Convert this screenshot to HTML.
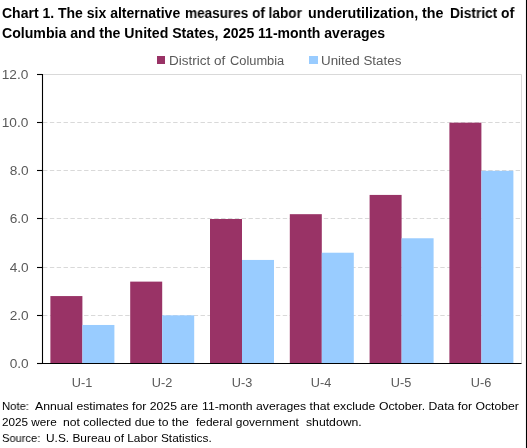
<!DOCTYPE html>
<html><head><meta charset="utf-8"><style>
html,body{margin:0;padding:0;background:#fff;}
body{width:527px;height:448px;position:relative;overflow:hidden;font-family:"Liberation Sans",sans-serif;}
.t{position:absolute;white-space:pre;line-height:1;transform-origin:0 0;will-change:transform;}
.r{position:absolute;white-space:pre;line-height:1;text-align:right;transform-origin:100% 0;will-change:transform;}
.c{position:absolute;white-space:pre;line-height:1;text-align:center;transform-origin:50% 0;will-change:transform;}
svg{position:absolute;left:0;top:0;}
</style></head><body>
<svg width="527" height="448" viewBox="0 0 527 448"><line x1="42.5" y1="74.5" x2="521.5" y2="74.5" stroke="#d9d9d9" stroke-width="1"/><line x1="521.5" y1="74.5" x2="521.5" y2="363.5" stroke="#d9d9d9" stroke-width="1"/><line x1="43" y1="315.50" x2="521" y2="315.50" stroke="#d9d9d9" stroke-width="1" stroke-dasharray="4.4,2.45"/><line x1="43" y1="267.50" x2="521" y2="267.50" stroke="#d9d9d9" stroke-width="1" stroke-dasharray="4.4,2.45"/><line x1="43" y1="218.50" x2="521" y2="218.50" stroke="#d9d9d9" stroke-width="1" stroke-dasharray="4.4,2.45"/><line x1="43" y1="170.50" x2="521" y2="170.50" stroke="#d9d9d9" stroke-width="1" stroke-dasharray="4.4,2.45"/><line x1="43" y1="122.50" x2="521" y2="122.50" stroke="#d9d9d9" stroke-width="1" stroke-dasharray="4.4,2.45"/><rect x="50.40" y="296.07" width="32" height="67.43" fill="#993366"/><rect x="82.40" y="324.97" width="32" height="38.53" fill="#99ccff"/><rect x="130.20" y="281.62" width="32" height="81.88" fill="#993366"/><rect x="162.20" y="315.33" width="32" height="48.17" fill="#99ccff"/><rect x="210.00" y="219.00" width="32" height="144.50" fill="#993366"/><rect x="242.00" y="259.94" width="32" height="103.56" fill="#99ccff"/><rect x="289.80" y="214.18" width="32" height="149.32" fill="#993366"/><rect x="321.80" y="252.72" width="32" height="110.78" fill="#99ccff"/><rect x="369.60" y="194.92" width="32" height="168.58" fill="#993366"/><rect x="401.60" y="238.27" width="32" height="125.23" fill="#99ccff"/><rect x="449.40" y="122.67" width="32" height="240.83" fill="#993366"/><rect x="481.40" y="170.83" width="32" height="192.67" fill="#99ccff"/><line x1="42.5" y1="74" x2="42.5" y2="363.5" stroke="#000" stroke-width="1.1"/><line x1="37" y1="363.5" x2="521.5" y2="363.5" stroke="#000" stroke-width="1.1"/><line x1="37" y1="363.50" x2="42.5" y2="363.50" stroke="#000" stroke-width="1.1"/><line x1="37" y1="315.50" x2="42.5" y2="315.50" stroke="#000" stroke-width="1.1"/><line x1="37" y1="267.50" x2="42.5" y2="267.50" stroke="#000" stroke-width="1.1"/><line x1="37" y1="218.50" x2="42.5" y2="218.50" stroke="#000" stroke-width="1.1"/><line x1="37" y1="170.50" x2="42.5" y2="170.50" stroke="#000" stroke-width="1.1"/><line x1="37" y1="122.50" x2="42.5" y2="122.50" stroke="#000" stroke-width="1.1"/><line x1="37" y1="74.50" x2="42.5" y2="74.50" stroke="#000" stroke-width="1.1"/><line x1="526.5" y1="0" x2="526.5" y2="448" stroke="#000" stroke-width="1.1"/></svg>
<div class="t" style="left:2.00px;top:5.75px;font-size:14px;font-weight:bold;color:#000;transform:scaleX(0.9984)">Chart 1. The six alternative</div>
<div class="t" style="left:185.20px;top:5.75px;font-size:14px;font-weight:bold;color:#000;transform:scaleX(0.9690)">measures of labor</div>
<div class="t" style="left:308.30px;top:5.75px;font-size:14px;font-weight:bold;color:#000;transform:scaleX(1.0187)">underutilization, the</div>
<div class="t" style="left:449.50px;top:5.75px;font-size:14px;font-weight:bold;color:#000;transform:scaleX(0.9806)">District of</div>
<div class="t" style="left:2.00px;top:25.65px;font-size:14px;font-weight:bold;color:#000;transform:scaleX(1.0084)">Columbia and the United States,</div>
<div class="t" style="left:222.60px;top:25.65px;font-size:14px;font-weight:bold;color:#000;transform:scaleX(1.0013)">2025 11-month averages</div>
<div style="position:absolute;left:157px;top:56px;width:8px;height:8px;background:#993366"></div>
<div style="position:absolute;left:309px;top:56px;width:9px;height:8px;background:#99ccff"></div>
<div class="t" style="left:169.30px;top:54.60px;font-size:12px;color:#595959;transform:scaleX(1.1249)">District of</div>
<div class="t" style="left:230.30px;top:54.60px;font-size:12px;color:#595959;transform:scaleX(1.0703)">Columbia</div>
<div class="t" style="left:320.8px;top:54.6px;font-size:12px;color:#595959;transform:scaleX(1.115)">United States</div>
<div class="r" style="right:498.3px;top:357.84px;font-size:12px;color:#595959;transform:scaleX(1.14)">0.0</div>
<div class="r" style="right:498.3px;top:309.84px;font-size:12px;color:#595959;transform:scaleX(1.14)">2.0</div>
<div class="r" style="right:498.3px;top:261.84px;font-size:12px;color:#595959;transform:scaleX(1.14)">4.0</div>
<div class="r" style="right:498.3px;top:212.84px;font-size:12px;color:#595959;transform:scaleX(1.14)">6.0</div>
<div class="r" style="right:498.3px;top:164.84px;font-size:12px;color:#595959;transform:scaleX(1.14)">8.0</div>
<div class="r" style="right:498.3px;top:116.84px;font-size:12px;color:#595959;transform:scaleX(1.14)">10.0</div>
<div class="r" style="right:498.3px;top:68.84px;font-size:12px;color:#595959;transform:scaleX(1.14)">12.0</div>
<div class="c" style="left:52.00px;width:60px;top:376.5px;font-size:12px;color:#595959;transform:scaleX(1.06)">U-1</div>
<div class="c" style="left:131.80px;width:60px;top:376.5px;font-size:12px;color:#595959;transform:scaleX(1.06)">U-2</div>
<div class="c" style="left:211.60px;width:60px;top:376.5px;font-size:12px;color:#595959;transform:scaleX(1.06)">U-3</div>
<div class="c" style="left:291.40px;width:60px;top:376.5px;font-size:12px;color:#595959;transform:scaleX(1.06)">U-4</div>
<div class="c" style="left:371.20px;width:60px;top:376.5px;font-size:12px;color:#595959;transform:scaleX(1.06)">U-5</div>
<div class="c" style="left:451.00px;width:60px;top:376.5px;font-size:12px;color:#595959;transform:scaleX(1.06)">U-6</div>
<div class="t" style="left:2.00px;top:400.77px;font-size:11.5px;color:#000;transform:scaleX(0.9783)">Note:</div>
<div class="t" style="left:34.50px;top:400.77px;font-size:11.5px;color:#000;transform:scaleX(1.0625)">Annual estimates for 2025 are</div>
<div class="t" style="left:202.30px;top:400.77px;font-size:11.5px;color:#000;transform:scaleX(1.0604)">11-month averages that exclude</div>
<div class="t" style="left:379.30px;top:400.77px;font-size:11.5px;color:#000;transform:scaleX(1.0619)">October. Data for October</div>
<div class="t" style="left:2.00px;top:417.07px;font-size:11.5px;color:#000;transform:scaleX(1.0205)">2025 were</div>
<div class="t" style="left:63.30px;top:417.07px;font-size:11.5px;color:#000;transform:scaleX(1.0572)">not collected due to the</div>
<div class="t" style="left:195.50px;top:417.07px;font-size:11.5px;color:#000;transform:scaleX(1.0381)">federal government</div>
<div class="t" style="left:305.50px;top:417.07px;font-size:11.5px;color:#000;transform:scaleX(1.0626)">shutdown.</div>
<div class="t" style="left:2.00px;top:432.77px;font-size:11.5px;color:#000;transform:scaleX(0.9661)">Source:</div>
<div class="t" style="left:45.80px;top:432.77px;font-size:11.5px;color:#000;transform:scaleX(1.0334)">U.S. Bureau of Labor Statistics.</div>
</body></html>
